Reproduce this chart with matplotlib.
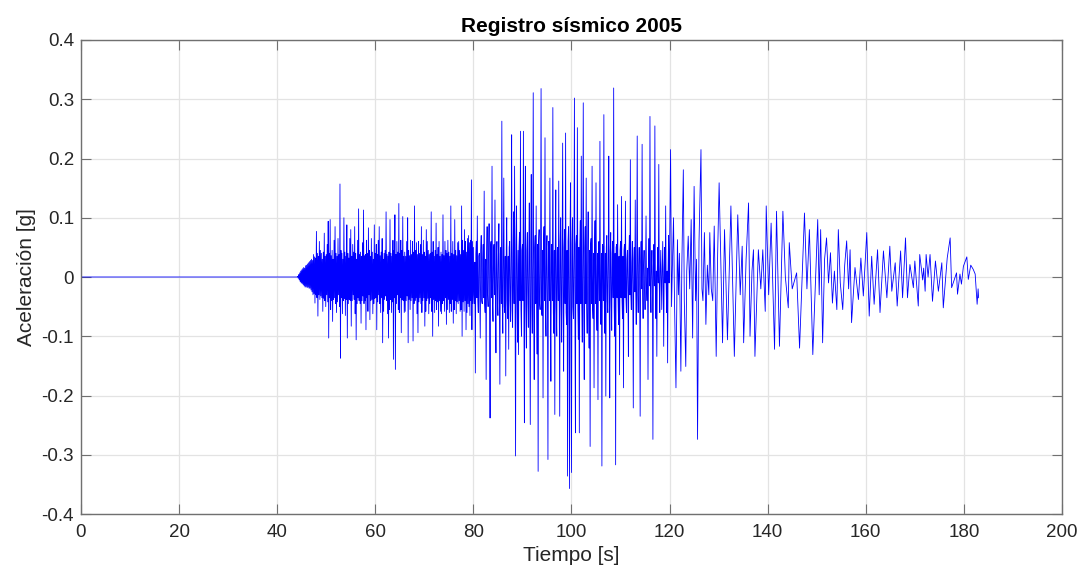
import numpy as np
import matplotlib
matplotlib.use("Agg")
import matplotlib.pyplot as plt

plt.rcParams['font.family'] = ['Liberation Sans', 'DejaVu Sans']

# ---------------- data (acceleration in milli-g) ----------------
title = "Registro sísmico 2005"
xlabel = "Tiempo [s]"
ylabel = "Aceleración [g]"
xticks = [0, 20, 40, 60, 80, 100, 120, 140, 160, 180, 200]
yticks = [-0.4, -0.3, -0.2, -0.1, 0, 0.1, 0.2, 0.3, 0.4]
ytick_labels = ["-0.4", "-0.3", "-0.2", "-0.1", "0", "0.1", "0.2", "0.3", "0.4"]

# quiet pre-event part
quiet_t = [0.0, 43.9]
quiet_mg = [0, 0]

# samples every 0.1 s (one row = one second)
sample_dt = 0.1

seg_a_t0 = 44.0
seg_a_mg = [
    0, 0, 1, -2, 4, -5, 7, -8, 10, -10,
    12, -11, 14, -13, 16, -15, 15, -17, 19, -16,
    20, -18, 22, -17, 24, -19, 26, -19, 28, -22,
    30, -25, 28, -30, 38, -28, 34, -44, 32, -30,
    77, -35, 40, -66, 35, -30, 60, -38, 45, -32,
    40, -35, 30, -58, 42, -36, 74, -40, 35, -50,
    38, -30, 55, -42, 94, -103, 40, -35, 97, -55,
    36, -40, 45, -75, 30, -38, 62, -35, 85, -45,
    40, -60, 35, -42, 65, -30, 38, -50, 157, -137,
    45, -35, 40, -62, 30, -40, 100, -36, 42, -65,
    35, -38, 88, -103, 40, -45, 32, -38, 65, -40,
    80, -83, 35, -40, 55, -30, 42, -38, 85, -62,
    40, -106, 30, -45, 62, -35, 115, -40, 38, -45,
    42, -78, 35, -40, 58, -32, 113, -45, 36, -40,
    38, -89, 62, -35, 40, -58, 83, -30, 45, -72,
    35, -40, 65, -38, 42, -62, 30, -45, 88, -36,
    40, -35, 55, -89, 38, -42, 62, -30, 85, -45,
    36, -60, 42, -35, 65, -111, 30, -58, 40, -38,
    45, -32, 110, -40, 38, -62, 35, -103, 42, -55,
    97, -38, 40, -60, 35, -42, 62, -139, 45, -35,
    105, -156, 38, -45, 60, -30, 42, -55, 124, -60,
    40, -35, 62, -94, 45, -38, 102, -40, 35, -60,
    42, -58, 35, -40, 60, -32, 100, -111, 45, -38,
    36, -55, 62, -40, 38, -35, 60, -108, 42, -45,
    120, -40, 45, -35, 58, -62, 38, -94, 60, -42,
    40, -35, 55, -45, 85, -60, 38, -40, 62, -35,
    42, -83, 35, -58, 80, -40, 60, -36, 45, -62,
    38, -45, 40, -35, 110, -58, 42, -100, 60, -38,
    35, -60, 45, -40, 91, -55, 38, -42, 50, -83,
    60, -40, 35, -58, 42, -62, 38, -45, 105, -40,
    36, -58, 60, -35, 45, -80, 40, -55, 62, -38,
    42, -60, 35, -45, 120, -58, 40, -38, 60, -78,
    38, -55, 97, -40, 45, -62, 36, -42, 58, -45,
    60, -40, 45, -58, 38, -55, 120, -100, 62, -42,
    45, -58, 80, -40, 60, -89, 42, -60, 65, -45,
    70, -50, 58, -65, 62, -40, 164, -89, 60, -45,
]

seg_b_t0 = 80.0
seg_b_mg = [
    50, -30, -45, 25, -162, 40, 60, -35, 103, -40,
    -60, 35, 40, -30, -103, 45, 70, -40, -45, 30,
    55, -35, 145, -45, -60, 30, -173, 40, 85, -30,
    -50, 35, 90, -40, -238, 50, 60, -35, 187, -45,
    -75, 40, 55, -30, 130, -45, -128, 35, 60, -40,
    -65, 45, 90, -35, -181, 40, 50, -45, 263, -50,
    -95, 40, 167, -50, -60, 35, -167, 45, 100, -40,
    -70, 35, -122, 50, 60, -40, -75, 45, 240, -55,
    -85, 40, 110, -45, 187, -50, -302, 55, 120, -40,
    -110, 45, -131, 50, 75, -40, 246, -55, -100, 45,
    55, -40, 246, -60, -246, 55, 187, -50, -120, 45,
    75, -45, -85, 40, 125, -55, -249, 60, 173, -50,
    -95, 45, 311, -60, -173, 50, 70, -45, 120, -50,
    -130, 55, -328, 60, 80, -45, -55, 40, 318, -60,
    -65, 45, -204, 55, 85, -40, 235, -55, -100, 45,
    70, -45, -308, 60, 60, -40, 167, -50, -176, 55,
    55, -40, 286, -60, -95, 45, -232, 55, 147, -50,
    -100, 45, 50, -40, 162, -55, -235, 60, 100, -45,
    -110, 50, 226, -55, -159, 50, 80, -45, 243, -60,
    -80, 45, -336, 60, 85, -50, -357, 60, 159, -55,
    -330, 55, 100, -50, -70, 45, 302, -60, -263, 55,
    70, -45, 252, -55, -105, 50, -263, 55, 95, -45,
    204, -50, -110, 45, 294, -60, -173, 50, 85, -45,
    167, -50, -95, 45, 110, -50, -120, 45, -286, 55,
    65, -45, 187, -50, -70, 40, -187, 50, 95, -45,
]

seg_c_t0 = 105.0
seg_c_mg = [
    159, -45, -90, 40, -207, 50, 60, -40, 229, -50,
    -80, 40, -319, 55, 50, -40, 274, -50, -95, 40,
    -201, 50, 70, -40, -60, 35, 204, -45, -204, 45,
    75, -40, -90, 40, 60, -35, 319, -50, -100, 40,
    -317, 50, 55, -35, 122, -40, -80, 35, -165, 45,
    60, -35, 136, -40, -70, 35, -187, 45, 55, -35,
    128, -35, -60, 30, 45, -25, -134, 35, 70, -30,
    198, -30, -55, 25, 60, -25, -221, 30, 50, -25,
    130, -25, -80, 25, 238, -30, -60, 20, 50, -25,
    -235, 25, 60, -20, 224, -25, -70, 20, 45, -20,
    -55, 15, 103, -20, -40, 15, -173, 20, 65, -15,
    271, -20, -60, 15, 45, -10, -274, 20, 55, -15,
    255, -15, -70, 10, -134, 15, 50, -10, 190, -15,
    -60, 10, 45, -10, -55, 10, 60, -10, -117, 15,
    50, -10, 120, -15, -60, 10, -145, 15, 70, -10,
]

# decaying part: peak times [s] and values [mg]
late_t = [
    120.0, 120.2, 120.4, 120.6, 120.8, 121.0, 121.3, 121.6, 121.8, 122.0, 122.3, 122.5, 122.8,
    123.0, 123.3, 123.5, 123.8, 124.1, 124.4, 124.7, 125.0, 125.3, 125.5, 125.7, 126.0, 126.4,
    126.6, 126.8, 127.1, 127.4, 127.7, 128.0, 128.2, 128.5, 128.8, 129.1, 129.5, 129.8, 130.1,
]
late_mg = [
    40, 215, -50, 30, 100, -40, -187, 63, -30, 40, -159, 20, 181,
    -40, -151, 10, 69, -20, 97, -103, 153, -40, 30, -274, 60, 215,
    -20, -40, 75, -80, 20, -30, 75, -20, -40, 86, -134, 40, 159,
]

# coda: peak times [s] and values [mg]
coda_t = [
    130.8, 131.2, 131.8, 132.5, 133.2, 133.9, 134.4, 134.8, 135.1, 135.6, 136.1, 136.4, 136.8,
    137.1, 137.4, 138.1, 138.6, 139.0, 139.5, 139.7, 140.2, 140.7, 141.4, 141.8, 142.4, 143.1,
    143.6, 144.2, 144.4, 145.0, 145.9, 146.5, 147.5, 148.0, 148.5, 149.2, 150.2, 150.5, 150.8,
    151.2, 151.6, 152.0, 152.4, 152.8, 153.2, 153.6, 154.1, 154.4, 154.8, 155.3, 155.7, 156.1,
    156.5, 156.8, 157.1, 157.8, 158.5, 159.0, 159.5, 160.2, 160.7, 161.2, 161.7, 162.4, 162.9,
    163.6, 164.3, 164.9, 165.3, 166.0, 166.4, 167.1, 167.5, 168.1, 168.5, 169.0, 169.7, 170.0,
    170.7, 171.0, 171.6, 171.8, 172.1, 172.3, 172.7, 173.1, 173.6, 174.2, 174.8, 175.5, 175.8,
    176.6, 177.2, 177.5, 178.5, 178.7, 179.2, 179.5, 179.9, 180.6, 180.9, 181.4, 181.9, 182.3,
    182.7, 182.9, 183.0,
]
coda_mg = [
    -111, 80, -106, 120, -134, 105, -30, 52, -111, 30, 125, -100, 10,
    46, -134, 46, -20, 46, -58, 120, -30, 91, -122, 111, -117, 111,
    0, -52, 58, -20, 7, -120, 108, -20, 80, -131, 97, -30, 80,
    -111, 30, 66, -10, 41, -44, 10, -55, 80, -10, -55, 20, 61,
    -20, 46, -77, 16, -38, 32, -32, 75, -66, 35, -46, 46, -60,
    44, -35, 52, -24, 24, -49, 44, -35, 66, -35, 21, -18, 27,
    -49, 38, -5, 15, -24, 38, 0, 38, -41, 27, -24, 24, -52,
    32, 66, -18, 7, -29, 5, -12, 18, 34, -4, 20, 13, 5,
    -46, -20, -35,
]

# ---------------- assemble ----------------
seg_t = []
seg_v = []
for t0, vals in [(seg_a_t0, seg_a_mg), (seg_b_t0, seg_b_mg), (seg_c_t0, seg_c_mg)]:
    seg_t.append(t0 + sample_dt * np.arange(len(vals)))
    seg_v.append(np.asarray(vals, dtype=float))

t = np.concatenate([quiet_t] + seg_t + [late_t, coda_t])
acc = np.concatenate([quiet_mg] + seg_v + [late_mg, coda_mg]) / 1000.0

# ---------------- plot ----------------
fig = plt.figure(figsize=(10.9, 5.78), dpi=100)
ax = fig.add_axes([0.0743, 0.1107, 0.9000, 0.8201])

ax.plot(t, acc, color=(0, 0, 1), linewidth=0.6, antialiased=True)

ax.set_xlim(0, 200)
ax.set_ylim(-0.4, 0.4)
ax.set_xticks(xticks)
ax.set_yticks(yticks)
ax.set_yticklabels(ytick_labels)

ax.grid(True, color='#e3e3e3', linewidth=0.9)
ax.set_axisbelow(True)

frame_col = '#707070'
for s in ax.spines.values():
    s.set_color(frame_col)
    s.set_linewidth(1.0)

ax.tick_params(axis='both', which='major', direction='in', length=7, width=0.8,
               color=frame_col, labelcolor='#262626', labelsize=13.5,
               top=True, right=True)
ax.tick_params(axis='x', pad=7)
ax.tick_params(axis='y', pad=5)

ax.set_title(title, fontsize=15, fontweight='bold', color='black', pad=6)
ax.set_xlabel(xlabel, fontsize=15, color='#262626', labelpad=4)
ax.set_ylabel(ylabel, fontsize=15, color='#262626', labelpad=4)

fig.savefig("out.png", dpi=100)
